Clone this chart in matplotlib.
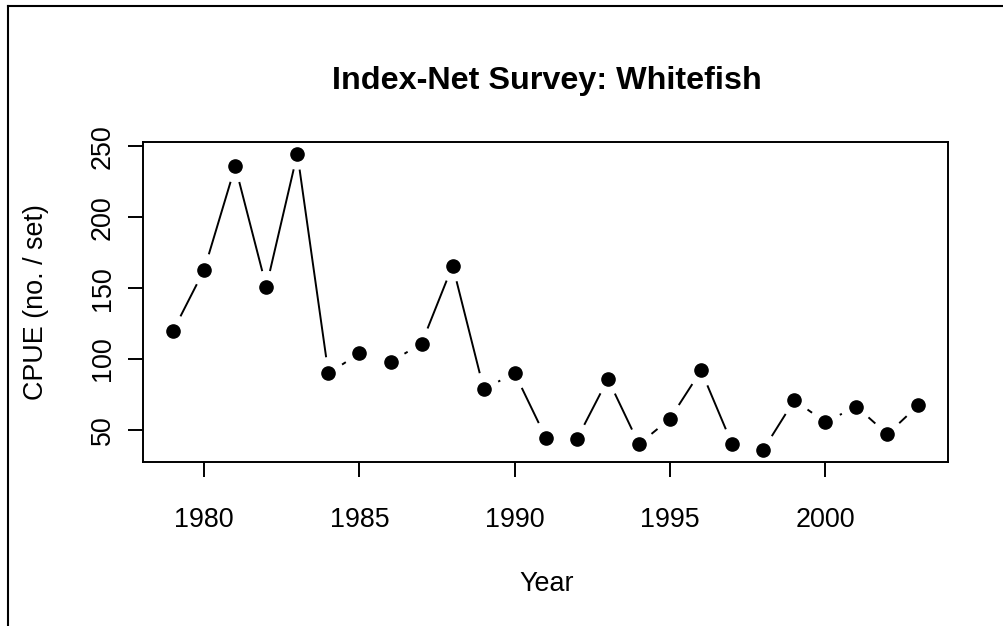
import numpy as np
import matplotlib.pyplot as plt
from matplotlib.lines import Line2D

fontname = 'Liberation Sans'
fontsizeBig = 23.3
fontsizeSmall = 19.4

# Werte
years = [1979, 1980, 1981, 1982, 1983, 1984, 1985, 1986, 1987, 1988, 1989, 1990,
         1991, 1992, 1993, 1994, 1995, 1996, 1997, 1998, 1999, 2000, 2001, 2002, 2003]
cpue = [120, 163, 236, 151, 245, 90, 104, 98, 111, 166, 79, 90,
        44.6, 43.5, 86, 40, 58, 92, 40, 36, 71, 55.6, 66.5, 47, 67.6]
xticks = [1980, 1985, 1990, 1995, 2000]
yticks = [50, 100, 150, 200, 250]

title = 'Index-Net Survey: Whitefish'
xlabel = 'Year'
ylabel = 'CPUE (no. / set)'

W, H = 1004, 626
fig = plt.figure(figsize=(W / 100, H / 100), dpi=100)
ax = fig.add_axes([143.3 / W, 1 - 461.7 / H, 805 / W, 320 / H])

# R-Stil: 4 % Rand um die Daten
x = np.array(years, dtype=float)
y = np.array(cpue, dtype=float)
xr = x.max() - x.min()
yr = y.max() - y.min()
ax.set_xlim(x.min() - 0.04 * xr, x.max() + 0.04 * xr)
ax.set_ylim(y.min() - 0.04 * yr, y.max() + 0.04 * yr)

# type = "b": Linien mit Luecke um die Punkte
gap = 16.2  # Pixel
pts = ax.transData.transform(np.column_stack([x, y]))
inv = ax.transData.inverted()
for i in range(len(pts) - 1):
    p0, p1 = pts[i], pts[i + 1]
    d = p1 - p0
    L = np.hypot(*d)
    if L <= 2 * gap:
        continue
    u = d / L
    a = inv.transform(p0 + u * gap)
    b = inv.transform(p1 - u * gap)
    ax.plot([a[0], b[0]], [a[1], b[1]], color='black', linewidth=1.4,
            solid_capstyle='butt')

ax.plot(x, y, linestyle='none', marker='o', markersize=9.5, color='black')

ax.set_xticks(xticks)
ax.set_yticks(yticks)
ax.set_xticklabels([str(t) for t in xticks], fontsize=fontsizeSmall, fontname=fontname)
ax.set_yticklabels([str(t) for t in yticks], fontsize=fontsizeSmall, fontname=fontname,
                   rotation=90, va='center')
ax.tick_params(axis='x', length=10.8, width=1.4, pad=21.5)
ax.tick_params(axis='y', length=10.8, width=1.4, pad=9)
for s in ax.spines.values():
    s.set_linewidth(1.4)

fig.text(546.5 / W, 1 - 89.3 / H, title, ha='center', va='baseline',
         fontsize=fontsizeBig, fontname=fontname, weight='bold')
fig.text(546.5 / W, 1 - 591 / H, xlabel, ha='center', va='baseline',
         fontsize=fontsizeSmall, fontname=fontname)
fig.text(36 / W, 1 - 301.7 / H, ylabel, ha='center', va='center', rotation=90,
         fontsize=fontsizeSmall, fontname=fontname)

# Rahmen um die Grafik (nur links und oben sichtbar)
fig.add_artist(Line2D([8 / W, 8 / W], [0, 1 - 6 / H], color='black', linewidth=1.5))
fig.add_artist(Line2D([8 / W, 1], [1 - 6 / H, 1 - 6 / H], color='black', linewidth=1.5))

fig.savefig('out.png', dpi=100)
